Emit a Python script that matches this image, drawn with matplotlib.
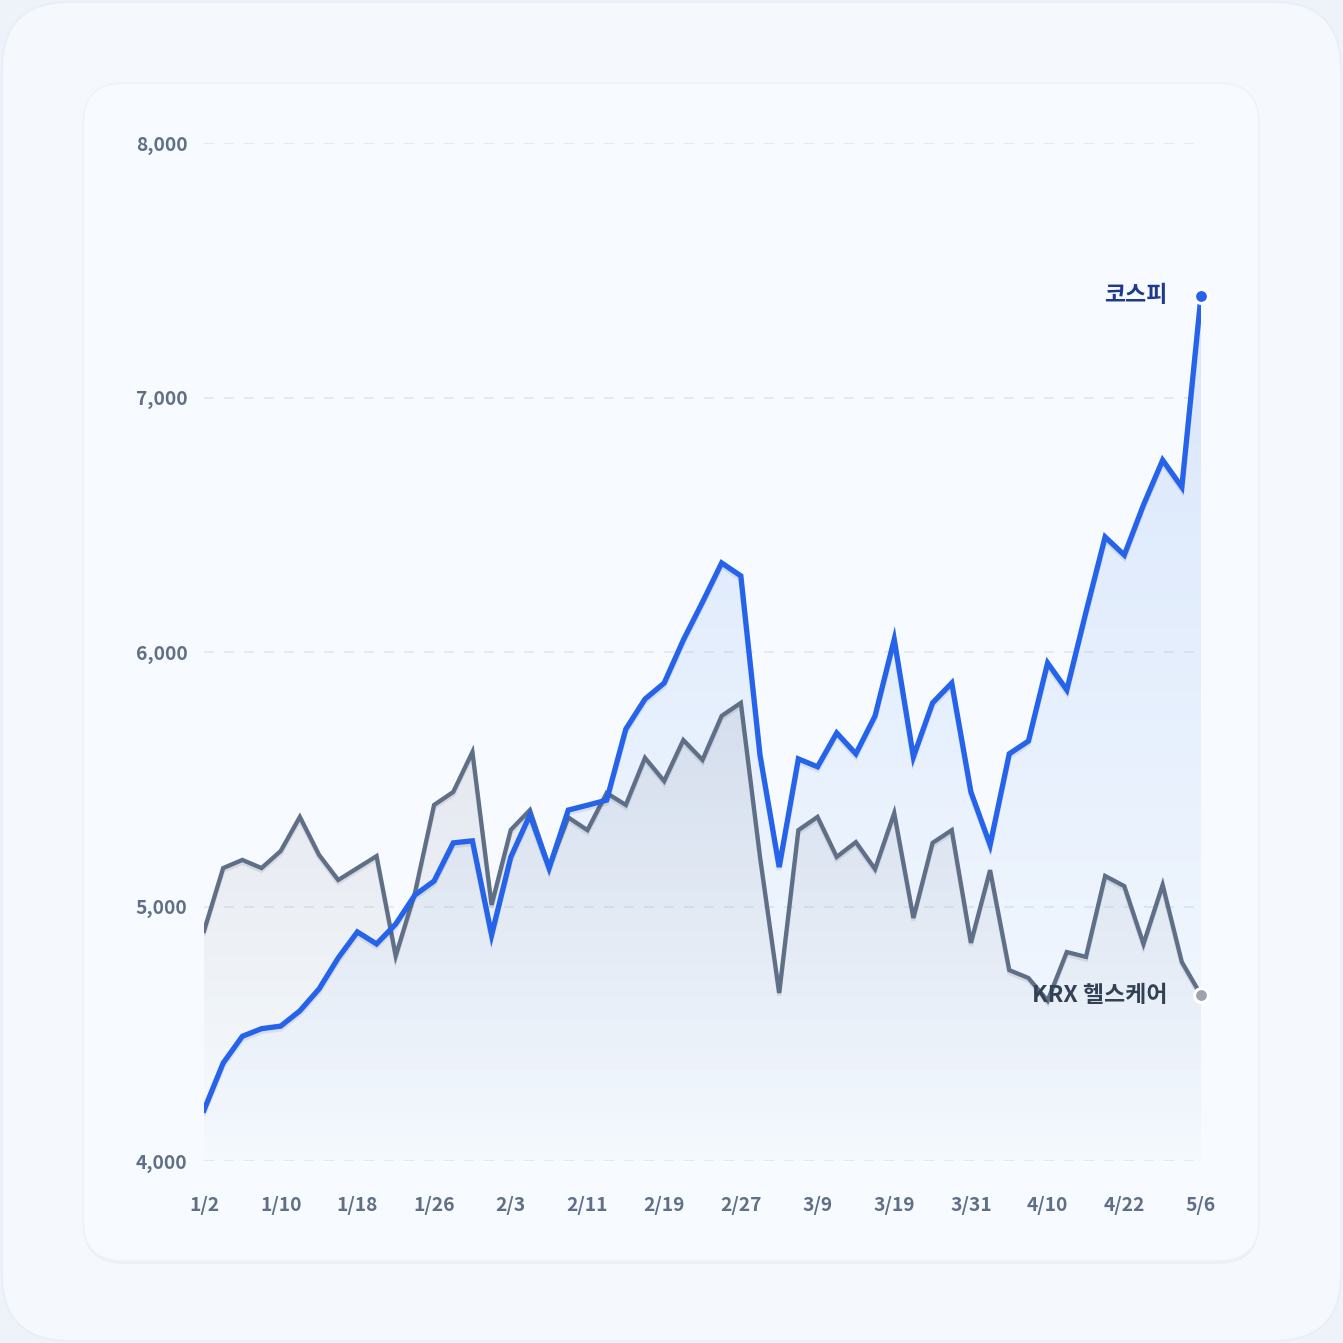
import numpy as np
import matplotlib.pyplot as plt
from matplotlib.patches import FancyBboxPatch
import matplotlib.patheffects as pe

plt.rcParams['font.family'] = ['Noto Sans CJK KR', 'DejaVu Sans']

# data
kospi = [4200, 4385, 4490, 4520, 4530, 4590, 4676, 4798, 4900, 4853,
         4931, 5045, 5100, 5250, 5258, 4888, 5194, 5360, 5151, 5379,
         5398, 5418, 5697, 5815, 5878, 6047, 6196, 6350, 6299, 5595,
         5155, 5580, 5549, 5682, 5600, 5749, 6050, 5588, 5800, 5878,
         5450, 5242, 5600, 5650, 5957, 5851, 6157, 6452, 6381, 6578,
         6754, 6648, 7400]
health = [4904, 5151, 5183, 5151, 5218, 5352, 5203, 5104, 5151, 5198,
          4806, 5053, 5399, 5450, 5607, 5006, 5301, 5379, 5155, 5350,
          5300, 5446, 5399, 5584, 5493, 5654, 5576, 5749, 5800, 5195,
          4660, 5300, 5352, 5195, 5253, 5147, 5367, 4955, 5250, 5300,
          4857, 5143, 4750, 4719, 4630, 4821, 4802, 5120, 5080, 4853,
          5085, 4782, 4652]
tick_labels = ['1/2', '1/10', '1/18', '1/26', '2/3', '2/11', '2/19',
               '2/27', '3/9', '3/19', '3/31', '4/10', '4/22', '5/6']
y_ticks = [4000, 5000, 6000, 7000, 8000]
name_kospi = '코스피'
name_health = 'KRX 헬스케어'

W = 1343
fig = plt.figure(figsize=(W / 100, W / 100), dpi=100)
fig.patch.set_facecolor('#eef3fa')

# card backgrounds
outer = FancyBboxPatch((2 / W, 2 / W), 1 - 4 / W, 1 - 4 / W,
                       boxstyle='round,pad=0,rounding_size=0.05',
                       transform=fig.transFigure, fc='#f5f8fd', ec='#e9eff8', lw=1.5,
                       zorder=-10)
fig.patches.append(outer)
inner = FancyBboxPatch((83 / W, 1 - 1261 / W), 1176 / W, 1178 / W,
                       boxstyle='round,pad=0,rounding_size=0.03',
                       transform=fig.transFigure, fc='#f7fbff', ec='#eff2f6', lw=1.2,
                       zorder=-9,
                       path_effects=[pe.SimplePatchShadow(offset=(0, -2), shadow_rgbFace='#e3e8f0', alpha=0.5),
                                     pe.Normal()])
fig.patches.append(inner)

ax = fig.add_axes([204 / W, 1 - 1161 / W, 997 / W, 1018 / W])
ax.set_facecolor('none')
x = np.arange(len(kospi))


def grad_fill(ax, x, y, rgb, a_top, a_bot, z, base=4000):
    poly = ax.fill_between(x, y, base, color='none', lw=0)
    img = np.zeros((256, 1, 4))
    img[..., :3] = rgb
    img[:, 0, 3] = np.linspace(a_top, a_bot, 256)
    im = ax.imshow(img, aspect='auto', extent=[x[0], x[-1], base, max(y)],
                   origin='upper', zorder=z, interpolation='bilinear')
    im.set_clip_path(poly.get_paths()[0], ax.transData)


grad_fill(ax, x, health, (0.60, 0.62, 0.68), 0.22, 0.0, 1)
grad_fill(ax, x, kospi, (0.55, 0.70, 0.95), 0.28, 0.02, 2)

shadow = [pe.SimpleLineShadow(offset=(0, -2), alpha=0.08), pe.Normal()]
ax.plot(x, health, color='#5f6f87', lw=3.1, zorder=3, solid_joinstyle='miter',
        path_effects=shadow)
ax.plot(x, kospi, color='#2563eb', lw=3.8, zorder=4, solid_joinstyle='miter',
        path_effects=shadow)

ax.plot(x[-1], kospi[-1], 'o', ms=10, mfc='#2563eb', mec='white', mew=2.2,
        zorder=6, clip_on=False)
ax.plot(x[-1], health[-1], 'o', ms=10, mfc='#9ca3af', mec='white', mew=2.2,
        zorder=6, clip_on=False)
ax.annotate(name_kospi, (x[-1], kospi[-1]), xytext=(-24, 0), textcoords='offset points',
            ha='right', va='center', fontsize=16.5, fontweight='bold', color='#1e3a8a')
ax.annotate(name_health, (x[-1], health[-1]), xytext=(-24, 0), textcoords='offset points',
            ha='right', va='center', fontsize=16.5, fontweight='bold', color='#334155')

ax.set_xlim(0, len(kospi) - 1)
ax.set_ylim(4000, 8000)
ax.set_xticks(np.arange(0, len(kospi), 4))
ax.set_xticklabels(tick_labels)
ax.set_yticks(y_ticks)
ax.set_yticklabels([f'{v:,}' for v in y_ticks])
for s in ax.spines.values():
    s.set_visible(False)
ax.tick_params(length=0, labelsize=13.8, labelcolor='#5f6f86')
ax.tick_params(axis='x', pad=25.5)
ax.tick_params(axis='y', pad=12)
for lab in ax.get_xticklabels() + ax.get_yticklabels():
    lab.set_fontweight('bold')
ax.grid(axis='y', color='#e3e7ec', lw=1.2, linestyle=(0, (6, 6)), zorder=0)
ax.set_axisbelow(True)

fig.savefig('out.png', dpi=100, facecolor=fig.get_facecolor())
